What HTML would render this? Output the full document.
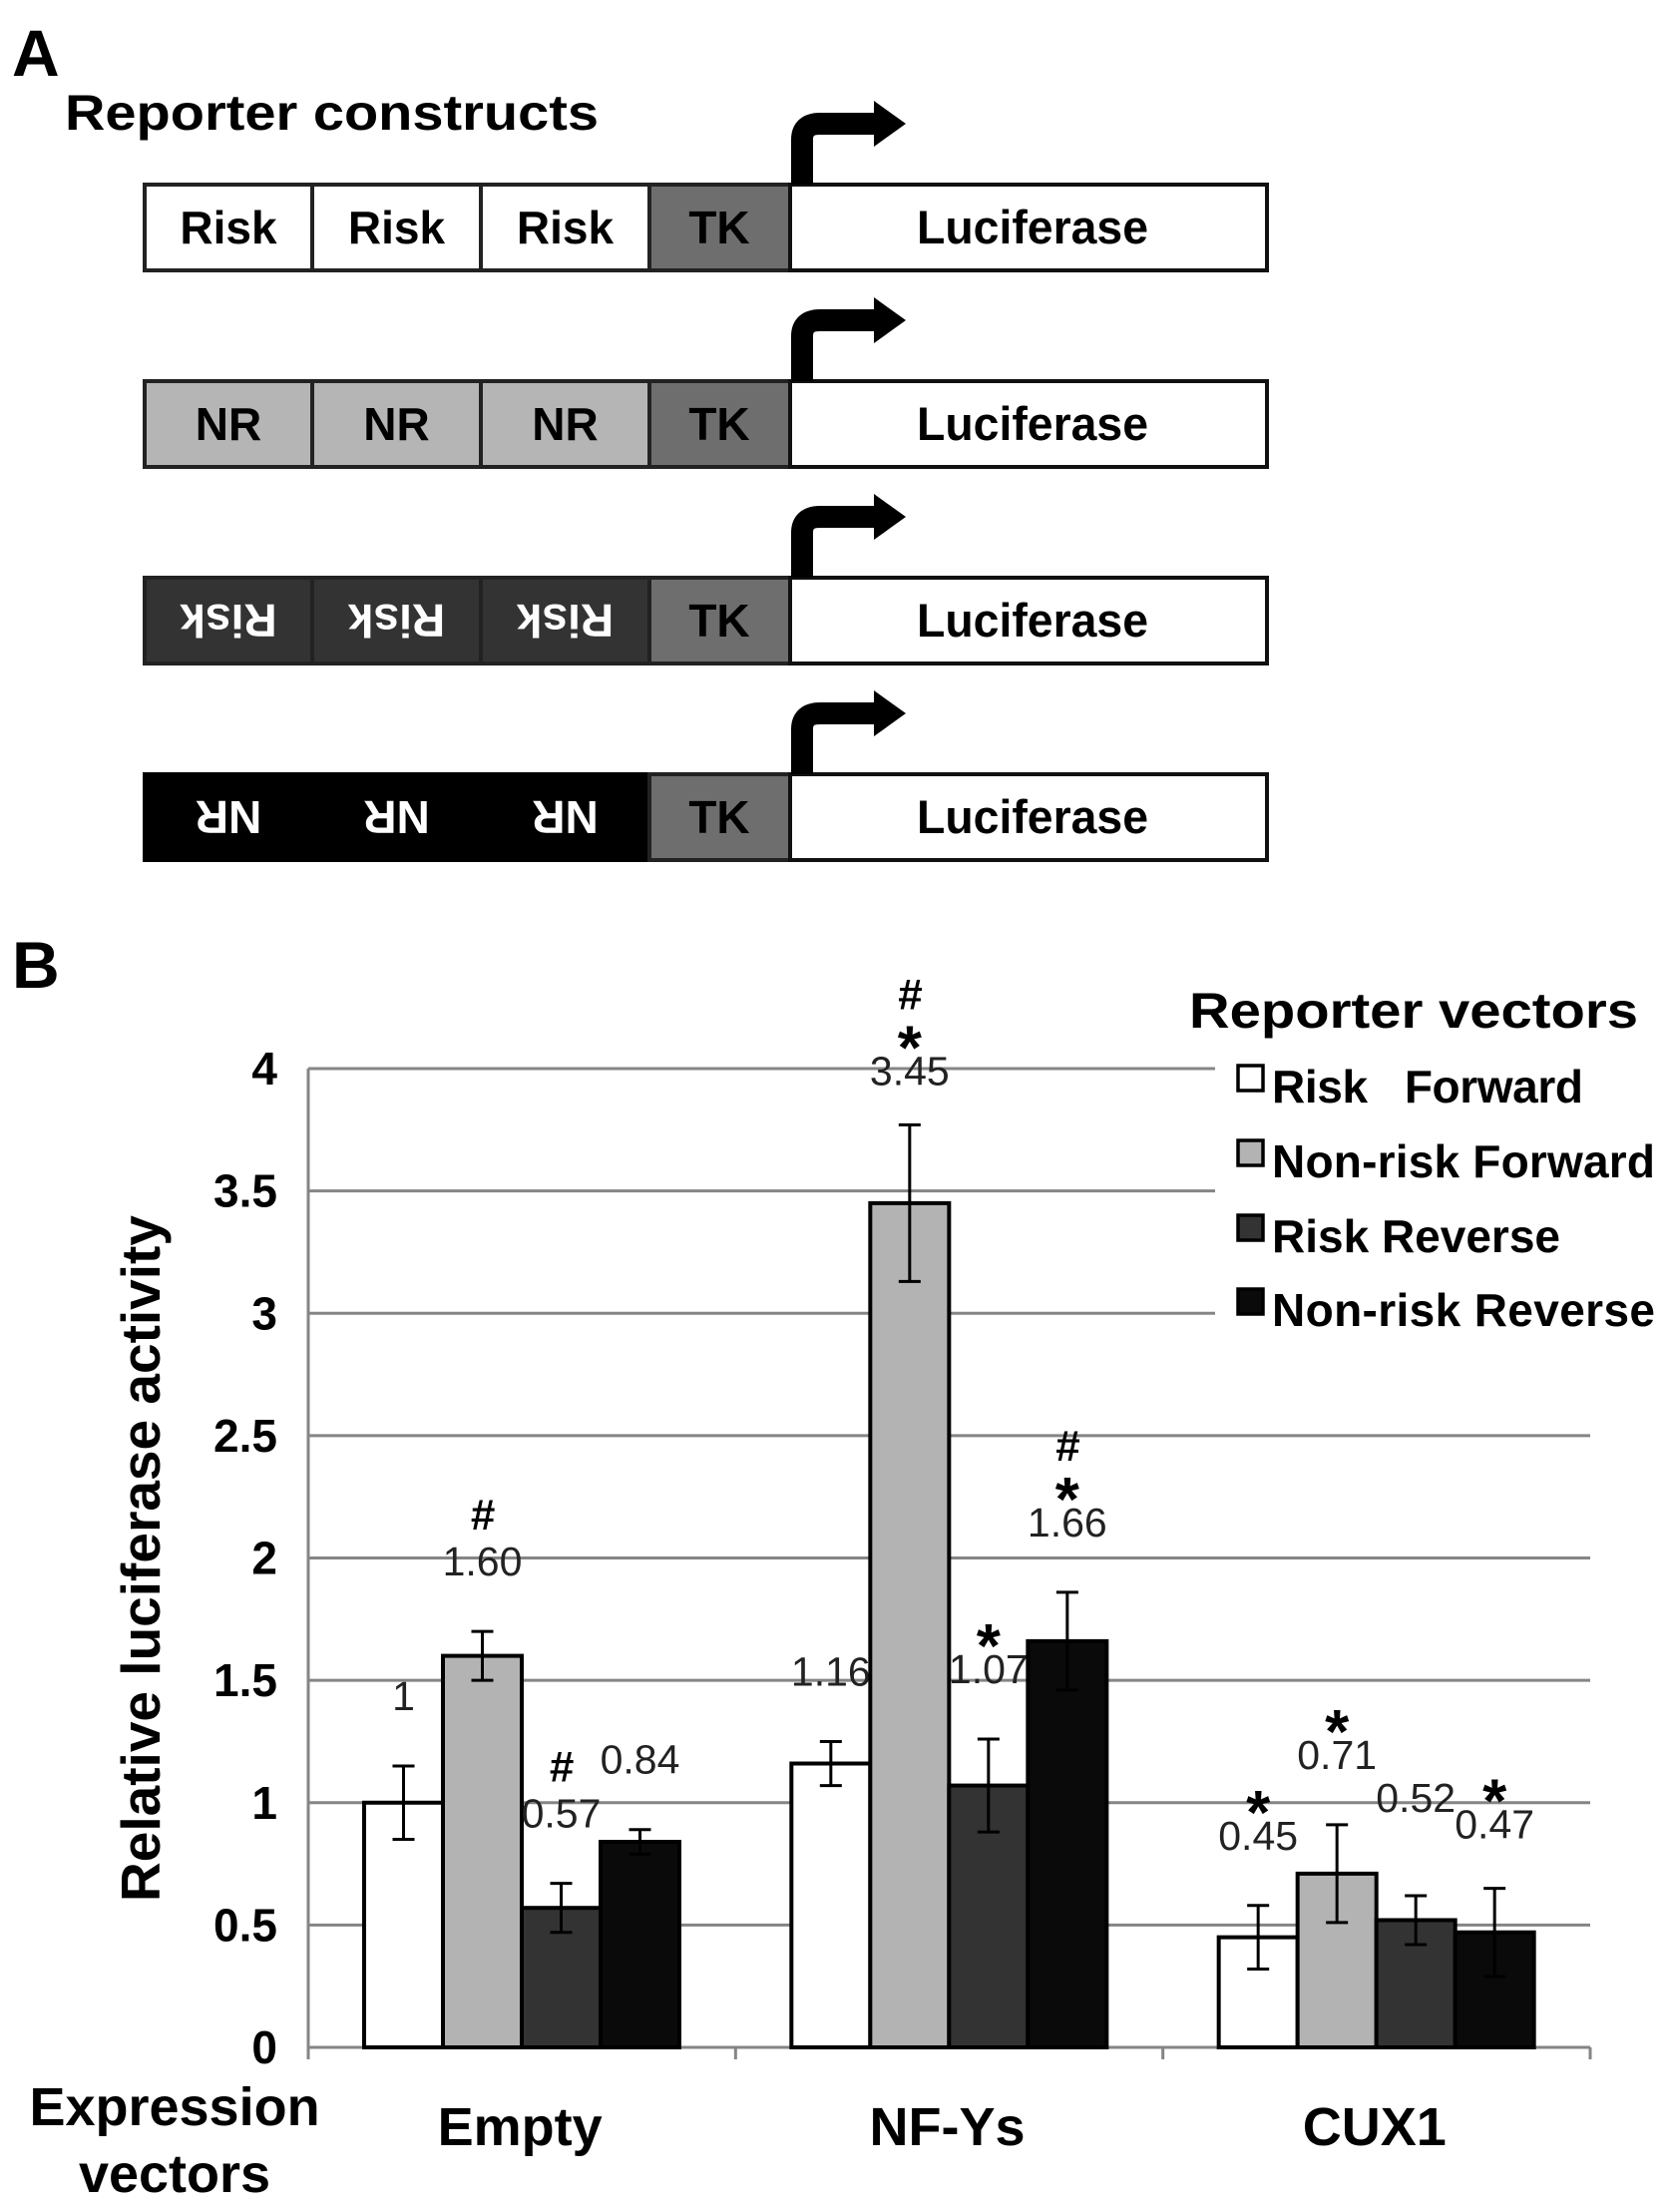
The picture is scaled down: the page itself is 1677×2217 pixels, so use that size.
<!DOCTYPE html>
<html><head><meta charset="utf-8"><style>
body{margin:0;background:#fff}
svg{display:block;font-family:"Liberation Sans",sans-serif}
text{white-space:pre}
</style></head><body>
<svg id="fig" width="1677" height="2217" viewBox="0 0 1677 2217" xmlns="http://www.w3.org/2000/svg">
<text x="12" y="76" font-size="66" font-weight="bold">A</text>
<text x="65" y="130" font-size="50" font-weight="bold" textLength="535" lengthAdjust="spacingAndGlyphs">Reporter constructs</text>
<g id="constructs"></g>
<text x="12" y="990" font-size="66" font-weight="bold">B</text>
<g id="chart"></g>
</svg>
<script>
const NS="http://www.w3.org/2000/svg";
function mk(tag,attrs,parent,text){const e=document.createElementNS(NS,tag);for(const k in attrs)e.setAttribute(k,attrs[k]);if(text!==undefined)e.textContent=text;parent.appendChild(e);return e;}

// ---- Panel A ----
const rowLabels=["Risk","NR","Risk","NR"];
const rowFills=["#ffffff","#b5b5b5","#333333","#000000"];
const rowText=["#000","#000","#fff","#fff"];
const rowFlip=[false,false,true,true];
const cg=document.getElementById('constructs');
const rowTops=[185,382,579,776];
const segX=[145,313,482,651];
rowTops.forEach((top,i)=>{
  const g=mk('g',{},cg);
  
  
  const h=86, cy=top+h/2;
  for(let s=0;s<3;s++){
    const r=mk('rect',{x:segX[s],y:top,width:segX[s+1]-segX[s],height:h,fill:rowFills[i],stroke:rowFills[i]==="#000000"?"#000":"#222","stroke-width":4},g);
    
    
    const tx=(segX[s]+segX[s+1])/2;
    const t=mk('text',{x:tx,y:cy+16,"font-size":46,"font-weight":"bold","text-anchor":"middle",fill:rowText[i]},g,rowLabels[i]);
    if(rowFlip[i]) t.setAttribute('transform',`rotate(180 ${tx} ${cy})`);
    
    
  }
  const tk=mk('rect',{x:651,y:top,width:141,height:h,fill:"#6e6e6e",stroke:"#222","stroke-width":4},g);
  
  mk('text',{x:721,y:cy+16,"font-size":46,"font-weight":"bold","text-anchor":"middle"},g,"TK");
  const lu=mk('rect',{x:792,y:top,width:478,height:h,fill:"#fff",stroke:"#111","stroke-width":4},g);
  
  mk('text',{x:1035,y:cy+16,"font-size":47,"font-weight":"bold","text-anchor":"middle",textLength:232,lengthAdjust:"spacingAndGlyphs"},g,"Luciferase");
  const ar=mk('path',{d:`M 804 ${top} L 804 ${top-45} Q 804 ${top-61} 822 ${top-61} L 880 ${top-61}`,fill:"none",stroke:"#000","stroke-width":22},g);
  
  mk('path',{d:`M 876 ${top-84} L 908 ${top-61} L 876 ${top-38} Z`,fill:"#000"},g);
});

// ---- Panel B chart ----
const categories=["Empty","NF-Ys","CUX1"];
const seriesNames=["Risk   Forward","Non-risk Forward","Risk Reverse","Non-risk Reverse"];
const seriesFill=["#ffffff","#b3b3b3","#333333","#0a0a0a"];
const valRiskF=[1,1.16,0.45];
const valNonRiskF=[1.60,3.45,0.71];
const valRiskR=[0.57,1.07,0.52];
const valNonRiskR=[0.84,1.66,0.47];
const errRiskF=[0.15,0.09,0.13];
const errNonRiskF=[0.10,0.32,0.20];
const errRiskR=[0.10,0.19,0.10];
const errNonRiskR=[0.05,0.20,0.18];
const labRiskF=["1","1.16","0.45"];
const labNonRiskF=["1.60","3.45","0.71"];
const labRiskR=["0.57","1.07","0.52"];
const labNonRiskR=["0.84","1.66","0.47"];
const markRiskF=["","","*"];
const markNonRiskF=["#","#*","*"];
const markRiskR=["#","*",""];
const markNonRiskR=["","#*","*"];
const yTicks=[0,0.5,1,1.5,2,2.5,3,3.5,4];
const yTickLabels=["0","0.5","1","1.5","2","2.5","3","3.5","4"];

const vals=[valRiskF,valNonRiskF,valRiskR,valNonRiskR];
const errs=[errRiskF,errNonRiskF,errRiskR,errNonRiskR];
const labs=[labRiskF,labNonRiskF,labRiskR,labNonRiskR];
const marks=[markRiskF,markNonRiskF,markRiskR,markNonRiskR];

const X0=309,X1=1594,Y0=2052,Ytop=1071,YMAX=4;
const groupW=(X1-X0)/categories.length, barW=79, padL=56;
const y=v=>Y0-(v/YMAX)*(Y0-Ytop);
const xb=(c,s)=>X0+c*groupW+padL+s*barW;
const ch=document.getElementById('chart');

yTicks.forEach((t,i)=>{
  if(t>0){const gl=mk('line',{x1:X0,x2:X1,y1:y(t),y2:y(t),stroke:"#858585","stroke-width":3},ch);
  }
  const tl=mk('text',{x:278,y:y(t)+16,"font-size":46,"font-weight":"bold","text-anchor":"end"},ch,yTickLabels[i]);
  
});
const ax=mk('line',{x1:X0,x2:X0,y1:Ytop,y2:Y0,stroke:"#858585","stroke-width":3},ch);

const xa=mk('line',{x1:X0,x2:X1,y1:Y0,y2:Y0,stroke:"#858585","stroke-width":3},ch);

for(let c=0;c<=categories.length;c++){mk('line',{x1:X0+c*groupW,x2:X0+c*groupW,y1:Y0,y2:Y0+12,stroke:"#858585","stroke-width":3},ch);}

// legend
const lg=mk('g',{},ch);

mk('rect',{x:1218,y:1055,width:459,height:290,fill:"#fff"},lg);
mk('text',{x:1192,y:1030,"font-size":50,"font-weight":"bold",textLength:450,lengthAdjust:"spacingAndGlyphs"},lg,"Reporter vectors");
const legY=[1089,1164,1239,1313];
seriesNames.forEach((n,s)=>{
  const e=mk('g',{},lg);
  
  
  mk('rect',{x:1241,y:legY[s]-21,width:25,height:25,fill:seriesFill[s],stroke:"#000","stroke-width":3.5},e);
  const t=mk('text',{x:1275,y:legY[s]+16,"font-size":46,"font-weight":"bold"},e,n);
  if(n.length>13) t.setAttribute('textLength', n.startsWith('Risk ')?312:384);
});

const labelYOffset=[[56,56,56],[56,40,56],[56,56,84],[56,56,50]];
categories.forEach((cat,c)=>{
  for(let s=0;s<4;s++){
    const v=vals[s][c], e=errs[s][c], x=xb(c,s);
    const b=mk('rect',{x:x,y:y(v),width:barW,height:Y0-y(v),fill:seriesFill[s],stroke:"#000","stroke-width":4},ch);
    
    
    const cx=x+barW/2;
    const eb=mk('path',{d:`M ${cx} ${y(v+e)} L ${cx} ${y(v-e)} M ${cx-11} ${y(v+e)} L ${cx+11} ${y(v+e)} M ${cx-11} ${y(v-e)} L ${cx+11} ${y(v-e)}`,stroke:"#000","stroke-width":3,fill:"none"},ch);
    
    const ly=y(v+e)-labelYOffset[s][c];
    const vl=mk('text',{x:cx,y:ly,"font-size":41,"text-anchor":"middle",fill:"#222"},ch,labs[s][c]);
    
    const m=marks[s][c];
    if(m.includes('*')){const t=mk('text',{x:cx,y:ly-16,"font-size":62,"font-weight":"bold","text-anchor":"middle"},ch,"*");}
    if(m.includes('#')){const hy=m.includes('*')?ly-76:ly-46;const t=mk('text',{x:cx,y:hy,"font-size":44,"font-weight":"bold","font-style":"italic","text-anchor":"middle"},ch,"#");}
  }
  const cl=mk('text',{x:X0+c*groupW+groupW/2-2,y:2150,"font-size":54,"font-weight":"bold","text-anchor":"middle"},ch,cat);
  
});
const t1=mk('text',{x:175,y:2130,"font-size":54,"font-weight":"bold","text-anchor":"middle"},ch,"Expression");

mk('text',{x:175,y:2197,"font-size":54,"font-weight":"bold","text-anchor":"middle"},ch,"vectors");
const yt=mk('text',{x:0,y:0,"font-size":55,"font-weight":"bold","text-anchor":"middle",transform:"translate(160 1562) rotate(-90)"},ch,"Relative luciferase activity");

</script>
</body></html>
